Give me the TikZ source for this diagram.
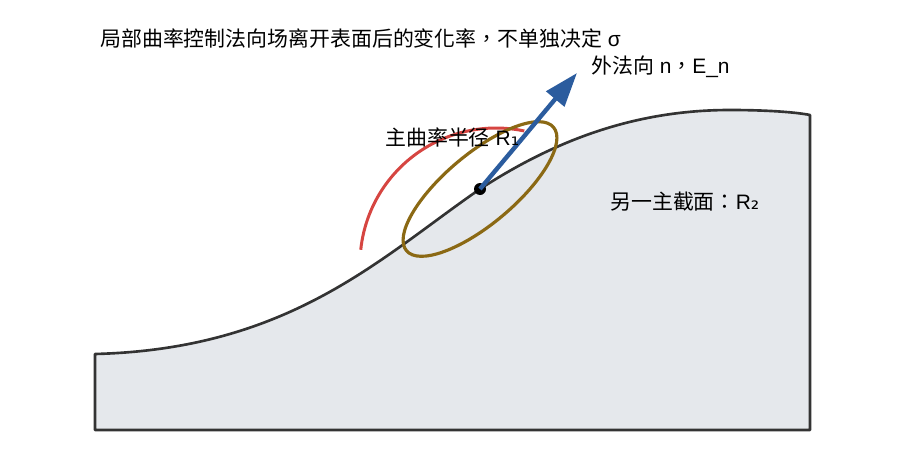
\documentclass[tikz,border=0pt]{standalone}
\usepackage{fontspec}
\setmainfont{Noto Sans CJK TC}
\newfontfamily\lat{Liberation Sans}
\newfontfamily\subfont{DejaVu Sans}
\usepackage{tikz}
\usetikzlibrary{arrows.meta}
\usetikzlibrary{positioning}

\definecolor{surf}{HTML}{E5E8EC}
\definecolor{surfline}{HTML}{333333}
\definecolor{arcred}{HTML}{D64541}
\definecolor{ringgold}{HTML}{8B6914}
\definecolor{normblue}{HTML}{2B5C9E}

\begin{document}
\begin{tikzpicture}[x=0.02cm,y=-0.02cm,
  lbl/.style={anchor=west,inner sep=0pt,font=\fontsize{11.9pt}{14pt}\selectfont}]
  \useasboundingbox (0,0) rectangle (900,460);
  \draw[surfline,line width=1.5pt,fill=surf,line join=round]
    (95,354) .. controls (290,349) and (380,258) .. (480,189)
    .. controls (560,137) and (640,110) .. (730,110)
    .. controls (765,110) and (795,112) .. (810,115)
    -- (810,430) -- (95,430) -- cycle;
  \draw[arcred,line width=1.7pt] (496,264) ++(186:136) arc[start angle=186,end angle=282,radius=136];
  \draw[ringgold,line width=1.8pt,rotate around={40:(480,189)}] (480,189) ellipse[x radius=96,y radius=35];
  \node[circle,fill=black,inner sep=0pt,minimum size=0.24cm] (p) at (480,189) {};
  \coordinate (ntip) at (577,73);
  \draw[normblue,line width=2.5pt,-{Triangle[length=0.68cm,width=0.46cm]}] (p.center) -- (ntip);
  \node[lbl] (title) at (100,39) {局部曲率控制法向场离开表面后的变化率，不单独决定{\lat\ σ}};
  \node[lbl] (nlbl) at (591,67) {外法向{\lat\ n}，{\lat E\_n}};
  \node[lbl] (rone) at (385,137) {主曲率半径{\lat\ R}{\subfont ₁}};
  \node[lbl] (rtwo) at (610,202) {另一主截面：{\lat R}{\subfont ₂}};
\end{tikzpicture}
\end{document}
